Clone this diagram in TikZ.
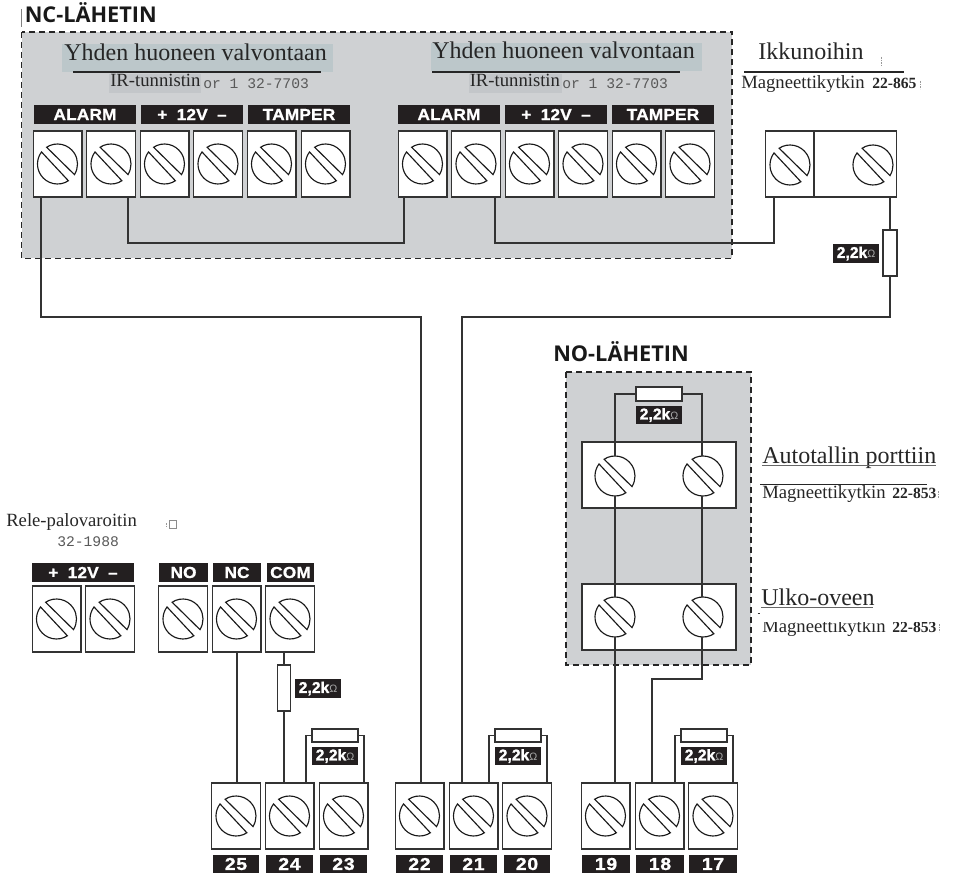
\documentclass[tikz,border=0pt]{standalone}
\usepackage{fontspec}
\usetikzlibrary{calc}
\setmainfont{Liberation Serif}
\newfontfamily\headfont{Open Sans}[BoldFont={* Bold}]
\newfontfamily\tagfont[FakeStretch=1.08,FakeBold=1,LetterSpace=1]{Liberation Sans Bold}
\newfontfamily\numfont[FakeStretch=1.12,FakeBold=1,LetterSpace=4]{Liberation Sans Bold}
\newfontfamily\resfont[FakeBold=1]{Liberation Sans Bold}
\newfontfamily\omfont{Liberation Sans}
\newfontfamily\monofont{Liberation Mono}
\definecolor{panel}{HTML}{CFD1D3}
\definecolor{hilite}{HTML}{BCC7CA}
\definecolor{hilitetwo}{HTML}{C3C6C9}
\definecolor{wirecol}{HTML}{333333}
\definecolor{tagcol}{HTML}{231F20}
\tikzset{
  panelbox/.style={draw=black!85,fill=panel,line width=1pt,dash pattern=on 4.5pt off 3pt},
  wire/.style={draw=wirecol,line width=1.25pt,line join=miter},
  termbox/.style={draw=wirecol,fill=white,line width=1.1pt,minimum width=36.4pt,minimum height=49.2pt,inner sep=0pt,outer sep=0pt},
  screwline/.style={draw=black!90,fill=white,line width=0.85pt},
  screw/.pic={
    \path[screwline] (123:20) arc[start angle=123,end angle=-32,radius=20] -- cycle;
    \path[screwline] (-57:20) arc[start angle=-57,end angle=-217,radius=20] -- cycle;
  },
  tagbox/.style={fill=tagcol,text=white,font=\tagfont\fontsize{12}{12}\selectfont,inner sep=0pt,outer sep=0pt,minimum height=14.25pt},
  numbox/.style={fill=tagcol,text=white,font=\numfont\fontsize{13}{13}\selectfont,inner sep=0pt,outer sep=0pt,minimum height=14.25pt},
  resbox/.style={draw=wirecol,fill=white,line width=1.1pt,inner sep=0pt,outer sep=0pt},
  reslabel/.style={fill=tagcol,text=white,inner sep=0pt,outer sep=0pt,minimum width=34.5pt,minimum height=14pt,font=\resfont\fontsize{11.8}{12}\selectfont},
  head/.style={anchor=base west,inner sep=0pt,font=\headfont\bfseries\fontsize{16.3}{17}\selectfont,text=black!90},
  bigtxt/.style={anchor=base west,inner sep=0pt,font=\fontsize{18}{18}\selectfont,text=black!85},
  midtxt/.style={anchor=base west,inner sep=0pt,font=\fontsize{14}{14}\selectfont,text=black!85},
  boldnum/.style={anchor=base west,inner sep=0pt,font=\bfseries\fontsize{11.7}{12}\selectfont,text=black!85},
  monotxt/.style={anchor=base west,inner sep=0pt,font=\monofont\fontsize{11}{11}\selectfont,text=black!65},
  ruleline/.style={draw=black!85,line width=0.8pt},
  scrap/.style={draw=black!40,line width=0.4pt,dash pattern=on 1.2pt off 0.8pt},
}
\newcommand\termb[3]{\node[termbox] (#1) at (#2,#3) {}; \pic at (#1) {screw};}
\newcommand\resval{2,2k{\omfont\fontsize{8}{8}\selectfont\textcolor{black!35}{Ω}}}
\begin{document}
\begin{tikzpicture}[x=0.75pt,y=0.75pt,yscale=-1]
\useasboundingbox (0,0) rectangle (953,873);
% panels
\path[panelbox] (21.5,32) rectangle (732,258.5);
\path[panelbox] (566,372) rectangle (751,665);
% titles
\draw[draw=black!50,line width=0.4pt] (21.5,9) -- (21.5,27);
\node[head] (nchead) at (24.5,22.5) {NC-LÄHETIN};
\node[head] (nohead) at (553,362) {NO-LÄHETIN};
% highlights and texts, panel one
\fill[hilite] (62,44) rectangle (333,72);
\fill[hilite] (431,43) rectangle (702,71);
\fill[hilitetwo] (109,74) rectangle (201,93);
\fill[hilitetwo] (469,74) rectangle (562,93);
\draw[ruleline] (73,72) -- (321,72);
\draw[ruleline] (432,72) -- (680,72);
\node[bigtxt] (ya) at (64,61) {Yhden huoneen valvontaan};
\node[bigtxt] (yb) at (432,59) {Yhden huoneen valvontaan};
\node[midtxt] (ira) at (110,87) {IR-tunnistin};
\node[midtxt] (irb) at (469.5,87) {IR-tunnistin};
\node[monotxt] (ora) at (203,89) {or 1 32-7703};
\node[monotxt] (orb) at (562,89) {or 1 32-7703};
% window switch text
\node[bigtxt] (ikk) at (758,60) {Ikkunoihin};
\draw[ruleline] (744,72) -- (904,72);
\node[midtxt] (mka) at (741,89) {Magneettikytkin};
\node[boldnum] (mkan) at (872,89) {22-865};
\draw[scrap] (881,57) -- (881,66);
\draw[scrap] (920,81) -- (920,89);
% tags panel one
\node[tagbox,minimum width=76.5pt] (la) at (85,114.5) {ALARM};
\node[tagbox,minimum width=76.5pt] (lb) at (192,114.5) {+\hspace{7pt}12V\hspace{7pt}–};
\node[tagbox,minimum width=76.5pt] (lc) at (299,114.5) {TAMPER};
\node[tagbox,minimum width=76.5pt] (ld) at (449,114.5) {ALARM};
\node[tagbox,minimum width=76.5pt] (le) at (556,114.5) {+\hspace{7pt}12V\hspace{7pt}–};
\node[tagbox,minimum width=76.5pt] (lf) at (663,114.5) {TAMPER};
% terminals panel one
\termb{a1}{57.5}{164}\termb{a2}{111}{164}\termb{a3}{164.5}{164}\termb{a4}{218}{164}\termb{a5}{271.5}{164}\termb{a6}{325.5}{164}
\termb{b1}{422.5}{164}\termb{b2}{476}{164}\termb{b3}{529.5}{164}\termb{b4}{583}{164}\termb{b5}{636.5}{164}\termb{b6}{690}{164}
% window switch
\node[termbox,minimum width=36.4pt] (wa) at (789.5,164) {};
\node[termbox,minimum width=61.7pt] (wb) at (855.5,164) {};
\coordinate (wascrew) at (790,165);
\coordinate (wbscrew) at (873,165);
\pic at (wascrew) {screw};
\pic at (wbscrew) {screw};
\node[resbox,minimum width=10.5pt,minimum height=34.5pt] (rw) at (890,253) {};
\node[reslabel] (rwl) at (856,253.5) {\resval};
% relay
\node[midtxt] (rele) at (6,526) {Rele-palovaroitin};
\node[monotxt] (relen) at (57,546) {32-1988};
\draw[draw=black!45,line width=0.4pt] (169.5,520.5) rectangle (176.5,528);
\draw[scrap] (166,523) -- (166,528);
\node[tagbox,minimum width=76.5pt] (lr) at (83,572.5) {+\hspace{7pt}12V\hspace{7pt}–};
\node[tagbox,minimum width=36.5pt] (lno) at (183.5,572.5) {NO};
\node[tagbox,minimum width=36pt] (lnc) at (237,572.5) {NC};
\node[tagbox,minimum width=35.5pt] (lcom) at (290.5,572.5) {COM};
\termb{r1}{56.5}{619}\termb{r2}{110}{619}
\termb{r3}{183}{619}\termb{r4}{236.5}{619}\termb{r5}{290}{619}
\node[resbox,minimum width=10pt,minimum height=34.5pt] (rc) at (284,688) {};
\node[reslabel] (rcl) at (318,688.5) {\resval};
% bottom terminals
\termb{t25}{236}{816}\termb{t24}{289.5}{816}\termb{t23}{343.5}{816}
\termb{t22}{419.5}{816}\termb{t21}{473.5}{816}\termb{t20}{527}{816}
\termb{t19}{605.5}{816}\termb{t18}{659.5}{816}\termb{t17}{713}{816}
\node[numbox,minimum width=34.5pt] (n25) at (236,864) {25};
\node[numbox,minimum width=35pt] (n24) at (289.5,864) {24};
\node[numbox,minimum width=35pt] (n23) at (343.5,864) {23};
\node[numbox,minimum width=35pt] (n22) at (419.5,864) {22};
\node[numbox,minimum width=35pt] (n21) at (473.5,864) {21};
\node[numbox,minimum width=35pt] (n20) at (527,864) {20};
\node[numbox,minimum width=35.5pt] (n19) at (606,864) {19};
\node[numbox,minimum width=36pt] (n18) at (660,864) {18};
\node[numbox,minimum width=36pt] (n17) at (713,864) {17};
% bottom resistors
\node[resbox,minimum width=34.5pt,minimum height=10pt] (r23) at (335,735.5) {};
\node[reslabel] (r23l) at (335,756) {\resval};
\node[resbox,minimum width=34.5pt,minimum height=10pt] (r20) at (518,735.5) {};
\node[reslabel] (r20l) at (518,756) {\resval};
\node[resbox,minimum width=34.5pt,minimum height=10pt] (r17) at (704,735.5) {};
\node[reslabel] (r17l) at (704,756) {\resval};
% NO panel
\node[termbox,minimum width=115.5pt] (g1) at (659,475) {};
\node[termbox,minimum width=115.5pt] (g2) at (659,617) {};
\coordinate (g1l) at (615,476);
\coordinate (g1r) at (703,476);
\coordinate (g2l) at (615,617);
\coordinate (g2r) at (703,617);
\pic at (g1l) {screw};
\pic at (g1r) {screw};
\pic at (g2l) {screw};
\pic at (g2r) {screw};
\node[resbox,minimum width=34.5pt,minimum height=10.5pt] (rn) at (659,394) {};
\node[reslabel] (rnl) at (659,415) {\resval};
\node[bigtxt] (auto) at (762,463) {Autotallin porttiin};
\draw[draw=black!60,line width=0.9pt] (762,465.5) -- (936,465.5);
\draw[ruleline] (760,484.5) -- (927,484.5);
\node[midtxt] (mkb) at (762,498) {Magneettikytkin};
\node[boldnum] (mkbn) at (892,498) {22-853};
\draw[scrap] (938,491) -- (938,498);
\node[bigtxt] (ulko) at (761,605) {Ulko-oveen};
\draw[draw=black!60,line width=0.9pt] (761,607.5) -- (873,607.5);
\draw[draw=black!80,line width=0.8pt] (757.5,613.5) -- (759.5,613.5);
\begin{scope}
  \clip (755,622.5) rectangle (945,640);
  \node[midtxt] (mkc) at (762,632) {Magneettikytkin};
  \node[boldnum] (mkcn) at (892,632) {22-853};
\end{scope}
\draw[scrap] (939,624) -- (939,632);
% wires
\coordinate (bendl) at (200,317);
\coordinate (bendr) at (700,317);
\coordinate (bendm) at (680,679);
\coordinate (linka) at (300,243);
\coordinate (linkb) at (600,243);
\draw[wire] ($(a1.south)+(-16.5,0)$) |- (bendl) -| ($(t22.north)+(1.5,0)$);
\draw[wire] ($(a2.south)+(17,0)$) |- (linka) -| ($(b1.south)+(-18.5,0)$);
\draw[wire] ($(b2.south)+(19,0)$) |- (linkb) -| ($(wa.south)+(-15.5,0)$);
\draw[wire] ($(wb.south)+(34.5,0)$) -- (rw.north);
\draw[wire] (rw.south) |- (bendr) -| ($(t21.north)+(-11.5,0)$);
\draw[wire] ($(r4.south)+(0.5,0)$) -- ($(t25.north)+(1,0)$);
\draw[wire] ($(r5.south)+(-6,0)$) -- (rc.north);
\draw[wire] (rc.south) -- ($(t24.north)+(-5.5,0)$);
\draw[wire] ($(t24.north)+(16.5,0)$) |- (r23.west);
\draw[wire] ($(t23.north)+(20.5,0)$) |- (r23.east);
\draw[wire] ($(t21.north)+(15.5,0)$) |- (r20.west);
\draw[wire] ($(t20.north)+(20,0)$) |- (r20.east);
\draw[wire] ($(t18.north)+(15.5,0)$) |- (r17.west);
\draw[wire] ($(t17.north)+(20,0)$) |- (r17.east);
\draw[wire] ($(g1l)+(0,-20)$) |- (rn.west);
\draw[wire] ($(g1r)+(-1,-20)$) |- (rn.east);
\draw[wire] ($(g1l)+(0,20)$) -- ($(g2l)+(0,-20)$);
\draw[wire] ($(g1r)+(-1,20)$) -- ($(g2r)+(-1,-20)$);
\draw[wire] ($(g2l)+(0,20)$) -- ($(t19.north)+(9.5,0)$);
\draw[wire] ($(g2r)+(-1,20)$) |- (bendm) -| ($(t18.north)+(-7.5,0)$);
\end{tikzpicture}
\end{document}
